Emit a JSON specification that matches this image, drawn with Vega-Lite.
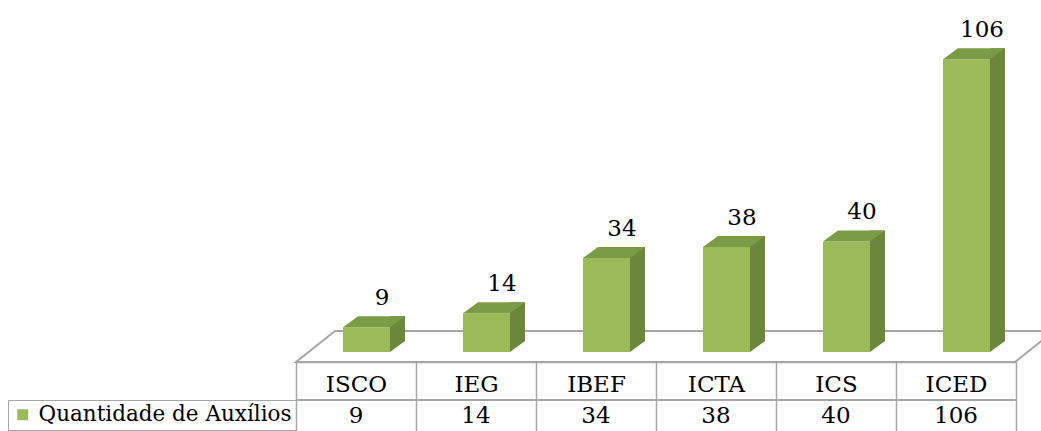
{
  "$schema": "https://vega.github.io/schema/vega-lite/v6.json",
  "width": 720,
  "height": 352,
  "autosize": {"type": "none"},
  "padding": {"left": 296, "right": 25, "top": 0, "bottom": 79},
  "background": "white",
  "config": {"view": {"stroke": null}, "font": "DejaVu Serif"},
  "data": {
    "values": [
      {"categoria": "ISCO", "valor": 9},
      {"categoria": "IEG", "valor": 14},
      {"categoria": "IBEF", "valor": 34},
      {"categoria": "ICTA", "valor": 38},
      {"categoria": "ICS", "valor": 40},
      {"categoria": "ICED", "valor": 106}
    ]
  },
  "encoding": {
    "x": {
      "field": "categoria", "type": "nominal",
      "sort": ["ISCO", "IEG", "IBEF", "ICTA", "ICS", "ICED"],
      "scale": {"paddingInner": 0, "paddingOuter": 0},
      "axis": {
        "orient": "bottom", "offset": 10, "title": null,
        "domainColor": "#A6A6A6", "domainWidth": 1.5,
        "tickColor": "#A6A6A6", "tickWidth": 1.5, "tickSize": 69, "tickBand": "extent",
        "labelFont": "DejaVu Serif", "labelFontSize": 23, "labelColor": "#000000",
        "labelAngle": 0, "labelBaseline": "middle", "labelPadding": -47
      }
    }
  },
  "layer": [
    {
      "transform": [{"filter": "datum.categoria === 'ICTA'"}],
      "mark": {
        "type": "point", "filled": true, "opacity": 1,
        "shape": "M -1 0.0238 L 0.7119 0.0238 L 0.8048 -0.05 L -0.9071 -0.05 Z",
        "size": 705600, "fill": "#FFFFFF", "stroke": "#A6A6A6", "strokeWidth": 2
      },
      "encoding": {
        "y": {"datum": 0, "type": "quantitative", "scale": {"domain": [0, 127.4], "nice": false}, "axis": null}
      }
    },
    {
      "mark": {"type": "bar", "width": 15, "xOffset": 41.5, "yOffset": -11, "y2Offset": -11, "color": "#6A873B"},
      "encoding": {
        "y": {"field": "valor", "type": "quantitative"}
      }
    },
    {
      "mark": {
        "type": "point", "filled": true, "opacity": 1,
        "shape": "M 0.68 -0.22 L 0.68 0 L 0.98 -0.22 Z",
        "size": 10000, "fill": "#6A873B", "strokeWidth": 0
      },
      "encoding": {"y": {"datum": 0, "type": "quantitative"}}
    },
    {
      "mark": {"type": "bar", "width": 47, "xOffset": 10.5},
      "encoding": {
        "y": {"field": "valor", "type": "quantitative"},
        "color": {
          "datum": "Quantidade de Auxílios", "type": "nominal",
          "scale": {"range": ["#9BBB59"]},
          "legend": {
            "orient": "none", "legendX": -288, "legendY": 400, "title": null,
            "strokeColor": "#A6A6A6", "padding": 4,
            "symbolType": "square", "symbolSize": 121, "symbolStrokeWidth": 0,
            "labelFont": "DejaVu Serif", "labelFontSize": 21.5, "labelColor": "#000000",
            "labelOffset": 5, "labelLimit": 400
          }
        }
      }
    },
    {
      "mark": {
        "type": "point", "filled": true, "opacity": 1,
        "shape": "M -0.26 0 L 0.68 0 L 0.98 -0.22 L 0.04 -0.22 Z",
        "size": 10000, "fill": "#7C9B46", "strokeWidth": 0
      },
      "encoding": {"y": {"field": "valor", "type": "quantitative"}}
    },
    {
      "mark": {"type": "text", "font": "DejaVu Serif", "fontSize": 23, "color": "#000000", "baseline": "alphabetic", "xOffset": 26, "yOffset": -22},
      "encoding": {
        "y": {"field": "valor", "type": "quantitative"},
        "text": {"field": "valor", "type": "quantitative"}
      }
    },
    {
      "mark": {"type": "rule", "color": "#A6A6A6", "strokeWidth": 1.5, "yOffset": 48},
      "encoding": {"y": {"datum": 0, "type": "quantitative"}, "x": null}
    },
    {
      "mark": {"type": "text", "font": "DejaVu Serif", "fontSize": 23, "color": "#000000", "baseline": "middle", "yOffset": 64},
      "encoding": {
        "y": {"datum": 0, "type": "quantitative"},
        "text": {"field": "valor", "type": "quantitative"}
      }
    }
  ]
}
